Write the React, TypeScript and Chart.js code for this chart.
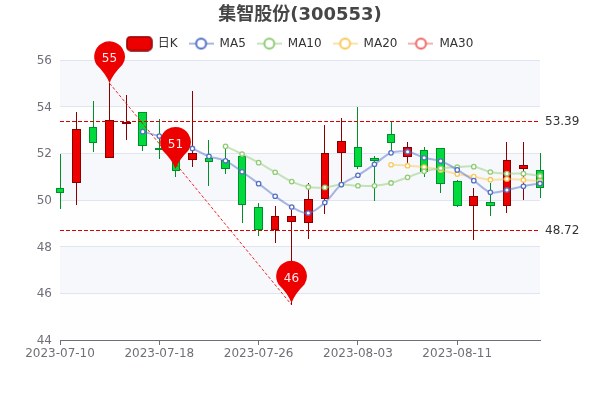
import React, { useEffect, useRef } from "react";
import { Chart, registerables } from "chart.js";

Chart.register(...registerables);

const FONT = '"DejaVu Sans", "Noto Sans CJK SC", sans-serif';

const categories = [
  "2023-07-10", "2023-07-11", "2023-07-12", "2023-07-13", "2023-07-14", "2023-07-17",
  "2023-07-18", "2023-07-19", "2023-07-20", "2023-07-21", "2023-07-24", "2023-07-25",
  "2023-07-26", "2023-07-27", "2023-07-28", "2023-07-31", "2023-08-01", "2023-08-02",
  "2023-08-03", "2023-08-04", "2023-08-07", "2023-08-08", "2023-08-09", "2023-08-10",
  "2023-08-11", "2023-08-14", "2023-08-15", "2023-08-16", "2023-08-17", "2023-08-18",
];
const opens = [50.53, 50.74, 53.13, 51.79, 53.3, 53.76, 52.24, 52.0, 51.7, 51.81, 51.71, 51.87, 49.7, 48.73, 49.04, 49.03, 50.03, 52.0, 52.26, 51.79, 52.82, 51.86, 52.16, 52.21, 50.8, 49.76, 49.93, 49.76, 51.34, 51.27];
const closes = [50.31, 53.03, 52.46, 53.41, 53.36, 52.3, 52.17, 51.24, 52.0, 51.64, 51.32, 49.79, 48.73, 49.3, 49.33, 50.03, 52.01, 52.53, 51.4, 51.69, 52.46, 52.27, 51.21, 50.7, 49.76, 50.16, 49.76, 51.73, 51.51, 50.5];
const highs = [51.97, 53.77, 54.24, 55.0, 54.5, 53.76, 53.49, 52.0, 54.66, 52.56, 52.23, 51.87, 49.89, 49.74, 49.57, 50.72, 53.2, 53.5, 54.0, 51.89, 53.36, 52.5, 52.27, 52.21, 50.85, 50.5, 50.74, 52.5, 52.47, 52.0];
const lows = [49.61, 49.79, 52.04, 51.79, 52.57, 52.11, 51.75, 51.0, 51.43, 50.61, 51.1, 49.0, 48.47, 48.17, 45.5, 48.34, 49.41, 50.75, 51.31, 49.97, 52.03, 51.6, 51.0, 50.31, 49.7, 48.29, 49.31, 49.46, 50.01, 50.1];

const N = null;
const ma5 = [N, N, N, N, N, 52.93, 52.74, 52.5, 52.21, 51.87, 51.68, 51.21, 50.7, 50.16, 49.7, 49.44, 49.89, 50.66, 51.06, 51.53, 52.02, 52.07, 51.81, 51.67, 51.29, 50.83, 50.33, 50.43, 50.59, 50.71];
const ma10 = [N, N, N, N, N, N, N, N, N, N, 52.3, 51.97, 51.6, 51.19, 50.79, 50.56, 50.54, 50.66, 50.61, 50.61, 50.73, 50.97, 51.23, 51.36, 51.41, 51.43, 51.2, 51.13, 51.13, 51.03];
const ma20 = [N, N, N, N, N, N, N, N, N, N, N, N, N, N, N, N, N, N, N, N, 51.51, 51.47, 51.41, 51.29, 51.11, 51.0, 50.87, 50.9, 50.86, 50.81];
const ma30 = categories.map(() => N);

const highLine = 53.39;
const lowLine = 48.72;
const diagIndexes = [3, 14];
const diagValues = [55.0, 45.5];
const pinIndexes = [3, 7, 14];
const pinValues = [55.0, 51.33, 45.59];
const pinLabels = ["55", "51", "46"];
const labelledEvery = 6;

const RED = "#ec0000";
const RED_DARK = "#8a0000";
const GREEN = "#00da3c";
const GREEN_DARK = "#008f28";
const BLUE = "#5470c6";
const LIME = "#91cc75";
const AMBER = "#fac858";
const ROSE = "#ee6666";
const AXIS = "#6e7079";
const SPLIT = "#e0e6f1";

const withAlpha = (hex: string, a: number) => {
  const n = parseInt(hex.slice(1), 16);
  return `rgba(${n >> 16},${(n >> 8) & 255},${n & 255},${a})`;
};

function lineIcon(color: string) {
  const c = document.createElement("canvas");
  c.width = 25;
  c.height = 14;
  const g = c.getContext("2d")!;
  g.strokeStyle = withAlpha(color, 0.5);
  g.lineWidth = 2;
  g.beginPath();
  g.moveTo(0, 7);
  g.lineTo(25, 7);
  g.stroke();
  g.fillStyle = "#fff";
  g.strokeStyle = color;
  g.lineWidth = 2;
  g.beginPath();
  g.arc(12.5, 7, 5, 0, Math.PI * 2);
  g.fill();
  g.stroke();
  return c;
}

function candleIcon() {
  const c = document.createElement("canvas");
  c.width = 27;
  c.height = 16;
  const g = c.getContext("2d")!;
  g.fillStyle = RED;
  g.strokeStyle = RED_DARK;
  g.lineWidth = 1.5;
  g.beginPath();
  g.roundRect(1, 1, 25, 14, 4);
  g.fill();
  g.stroke();
  return c;
}

const snapPlugin = {
  id: "snap",
  beforeDatasetsDraw(chart: any) {
    const sx = chart.scales.x;
    chart.data.datasets.forEach((d: any, idx: number) => {
      const meta = chart.getDatasetMeta(idx);
      if (d.snapKind === "wick") {
        meta.data.forEach((el: any, i: number) => {
          el.x = Math.floor(sx.getPixelForValue(i)) + 0.5;
          el.y = Math.round(el.y);
          el.base = Math.round(el.base);
        });
      } else if (d.snapKind === "body") {
        meta.data.forEach((el: any, i: number) => {
          const px = sx.getPixelForValue(i);
          const l = Math.floor(px - 3.8);
          const r = Math.ceil(px + 3.8);
          el.x = (l + r) / 2;
          el.width = r - l;
          const y = Math.round(el.y);
          let b = Math.round(el.base);
          if (Math.abs(b - y) < 2) b = y + 2;
          el.y = y;
          el.base = b;
        });
      } else if (d.snapKind === "level") {
        const sy = chart.scales.y;
        meta.data.forEach((el: any, i: number) => {
          el.y = Math.round(sy.getPixelForValue(d.data[i])) + 0.5;
        });
      }
    });
  },
};

const bandsPlugin = {
  id: "bands",
  beforeDraw(chart: any) {
    const { ctx, chartArea, scales } = chart;
    const ticks = scales.y.ticks.map((t: any) => t.value);
    ctx.save();
    for (let i = 0; i < ticks.length - 1; i++) {
      const a = scales.y.getPixelForValue(ticks[i]);
      const b = scales.y.getPixelForValue(ticks[i + 1]);
      ctx.fillStyle = i % 2 === 0 ? "rgba(250,250,250,0.2)" : "rgba(210,219,238,0.2)";
      ctx.fillRect(chartArea.left, Math.min(a, b), chartArea.right - chartArea.left, Math.abs(a - b));
    }
    ctx.restore();
  },
};

const overlayPlugin = {
  id: "overlay",
  afterDatasetsDraw(chart: any) {
    const { ctx, scales, chartArea } = chart;
    ctx.save();
    pinIndexes.forEach((idx, k) => {
      const x = Math.floor(scales.x.getPixelForValue(idx)) + 0.5;
      const tip = scales.y.getPixelForValue(pinValues[k]);
      const r = 15.3;
      const cy = tip - 26.7;
      ctx.fillStyle = RED;
      ctx.beginPath();
      ctx.arc(x, cy, r, Math.PI * 0.82, Math.PI * 0.18);
      ctx.quadraticCurveTo(x + 3.2, tip - 9, x, tip);
      ctx.quadraticCurveTo(x - 3.2, tip - 9, x - r * Math.cos(Math.PI * 0.18), cy + r * Math.sin(Math.PI * 0.18));
      ctx.closePath();
      ctx.fill();
      ctx.fillStyle = "rgba(255,255,255,0.92)";
      ctx.font = `12px ${FONT}`;
      ctx.textAlign = "center";
      ctx.textBaseline = "middle";
      ctx.fillText(pinLabels[k], x, cy + 2.5);
    });
    ctx.fillStyle = "#333";
    ctx.font = `12px ${FONT}`;
    ctx.textAlign = "left";
    ctx.textBaseline = "middle";
    [highLine, lowLine].forEach((v) => {
      ctx.fillText(v.toFixed(2), chartArea.right + 5, scales.y.getPixelForValue(v) + 1);
    });
    ctx.restore();
  },
};

export default function App() {
  const ref = useRef<HTMLCanvasElement | null>(null);

  useEffect(() => {
    document.body.style.margin = "0";
    const up = opens.map((o, i) => closes[i] >= o);
    const legendItems = [
      { text: "日K", pointStyle: candleIcon() },
      { text: "MA5", pointStyle: lineIcon(BLUE) },
      { text: "MA10", pointStyle: lineIcon(LIME) },
      { text: "MA20", pointStyle: lineIcon(AMBER) },
      { text: "MA30", pointStyle: lineIcon(ROSE) },
    ];
    const maDataset = (label: string, data: any[], color: string, order: number) => ({
      type: "line",
      label,
      data,
      borderColor: withAlpha(color, 0.5),
      borderWidth: 2,
      tension: 0.35,
      pointRadius: 2.2,
      pointBorderWidth: 1.3,
      pointBorderColor: color,
      pointBackgroundColor: "#fff",
      spanGaps: false,
      clip: false,
      order,
    });
    const levelDataset = (label: string, value: number) => ({
      type: "line",
      label,
      snapKind: "level",
      data: categories.map(() => value),
      borderColor: "#d80000",
      borderWidth: 1,
      borderDash: [4, 2],
      pointRadius: 0,
      tension: 0,
      clip: false,
      order: 1,
    });
    const chart = new Chart(ref.current!, {
      type: "bar",
      data: {
        labels: categories,
        datasets: [
          {
            type: "bar",
            label: "日K影线",
            snapKind: "wick",
            data: lows.map((l, i) => [l, highs[i]]),
            backgroundColor: up.map((u) => (u ? RED_DARK : GREEN_DARK)),
            borderWidth: 0,
            barThickness: 1,
            grouped: false,
            inflateAmount: 0,
            clip: false,
            order: 20,
          },
          {
            type: "bar",
            label: "日K",
            snapKind: "body",
            data: opens.map((o, i) => [o, closes[i]]),
            backgroundColor: up.map((u) => (u ? RED : GREEN)),
            borderColor: up.map((u) => (u ? RED_DARK : GREEN_DARK)),
            borderWidth: 1,
            borderSkipped: false,
            barThickness: 8,
            grouped: false,
            inflateAmount: 0,
            clip: false,
            order: 19,
          },
          maDataset("MA30", ma30, ROSE, 15),
          maDataset("MA20", ma20, AMBER, 14),
          maDataset("MA10", ma10, LIME, 13),
          maDataset("MA5", ma5, BLUE, 12),
          levelDataset("最高", highLine),
          levelDataset("最低", lowLine),
          {
            type: "line",
            label: "连线",
            data: categories.map((_, i) => {
              const k = diagIndexes.indexOf(i);
              return k >= 0 ? diagValues[k] : null;
            }),
            borderColor: "rgba(236,0,0,0.85)",
            borderWidth: 1,
            borderDash: [3, 2],
            pointRadius: 0,
            spanGaps: true,
            tension: 0,
            clip: false,
            order: 2,
          },
        ] as any,
      },
      options: {
        animation: false,
        responsive: false,
        events: [],
        layout: { padding: { left: 0, right: 0, top: 5, bottom: 0 } },
        font: { family: FONT },
        plugins: {
          tooltip: { enabled: false },
          title: {
            display: true,
            text: "集智股份(300553)",
            color: "#464646",
            font: { family: FONT, size: 18, weight: "bold", lineHeight: 1.2 },
            padding: { top: 0, bottom: 0 },
          },
          legend: {
            display: true,
            position: "top",
            labels: {
              usePointStyle: true,
              pointStyleWidth: 25,
              padding: 11,
              color: "#333",
              font: { family: FONT, size: 12 },
              generateLabels: () =>
                legendItems.map((it, i) => ({
                  text: it.text,
                  pointStyle: it.pointStyle,
                  fontColor: "#333",
                  hidden: false,
                  datasetIndex: i,
                  lineWidth: 0,
                })),
            },
          },
        },
        scales: {
          x: {
            type: "category",
            offset: false,
            afterBuildTicks: (s: any) => {
              s.ticks = s.ticks.filter((t: any) => t.value % labelledEvery === 0);
            },
            afterFit: (s: any) => {
              s.height = 60;
            },
            grid: { display: true, offset: false, drawOnChartArea: false, drawTicks: true, tickLength: 5, color: AXIS },
            border: { display: true, color: AXIS },
            ticks: {
              autoSkip: false,
              maxRotation: 0,
              minRotation: 0,
              padding: 2,
              color: AXIS,
              font: { family: FONT, size: 12 },
            },
          },
          y: {
            type: "linear",
            min: 44,
            max: 56,
            afterFit: (s: any) => {
              s.width = 60;
            },
            grid: { color: SPLIT, drawTicks: false, lineWidth: 1 },
            border: { display: false },
            ticks: {
              stepSize: 2,
              padding: 8,
              labelOffset: 1,
              color: AXIS,
              font: { family: FONT, size: 12 },
            },
          },
          gutter: {
            type: "linear",
            position: "right",
            display: true,
            afterFit: (s: any) => {
              s.width = 60;
            },
            grid: { display: false },
            border: { display: false },
            ticks: { display: false },
          },
          topGap: {
            type: "linear",
            axis: "x",
            position: "top",
            display: true,
            afterFit: (s: any) => {
              const c = s.chart;
              const used = 5 + (c.titleBlock ? c.titleBlock.height : 0) + (c.legend ? c.legend.height : 0);
              s.height = Math.max(0, 60 - used);
            },
            grid: { display: false },
            border: { display: false },
            ticks: { display: false },
          },
        },
      } as any,
      plugins: [bandsPlugin, snapPlugin, overlayPlugin],
    } as any);
    return () => chart.destroy();
  }, []);

  return <canvas ref={ref} width={600} height={400} style={{ display: "block" }} />;
}
